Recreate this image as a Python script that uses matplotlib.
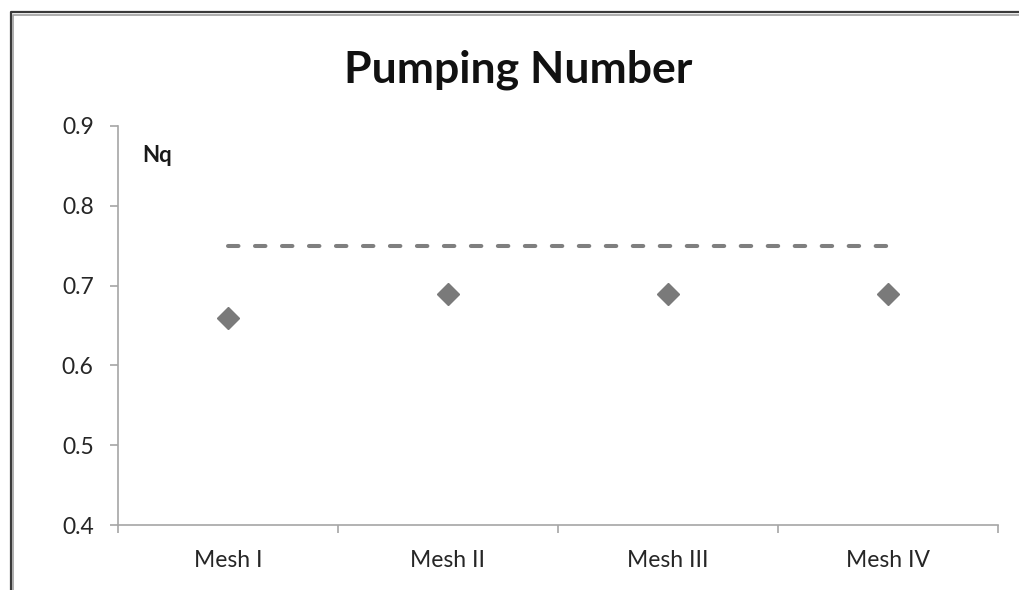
import matplotlib.pyplot as plt
from matplotlib.lines import Line2D

# chart data
categories = ['Mesh I', 'Mesh II', 'Mesh III', 'Mesh IV']
nq_values = [0.66, 0.69, 0.69, 0.69]
reference_nq = 0.75
y_ticks = [0.4, 0.5, 0.6, 0.7, 0.8, 0.9]

plt.rcParams['font.family'] = ['Lato', 'DejaVu Sans']

fig = plt.figure(figsize=(10.2, 5.9), dpi=100)
ax = fig.add_axes([118 / 1020, 1 - 525 / 590, 880 / 1020, 399 / 590])

x = list(range(len(categories)))

# dashed reference line and the diamond points
ax.plot([x[0], x[-1]], [reference_nq, reference_nq], color='#7f7f7f', lw=2.9,
        linestyle=(0, (2.6, 4.1)), dash_capstyle='round')
ax.plot(x, nq_values, linestyle='none', marker='D', markersize=11,
        color='#7a7a7a')

ax.set_xlim(-0.5, len(categories) - 0.5)
ax.set_ylim(0.4, 0.9)
ax.set_yticks(y_ticks)
ax.set_yticklabels([f'{v:.1f}' for v in y_ticks])
ax.set_xticks(x)
ax.set_xticklabels(categories)
ax.set_xticks([i - 0.5 for i in range(len(categories) + 1)], minor=True)

axis_color = '#a6a6a6'
for side in ['top', 'right']:
    ax.spines[side].set_visible(False)
for side in ['left', 'bottom']:
    ax.spines[side].set_color(axis_color)
    ax.spines[side].set_linewidth(1.2)

ax.tick_params(axis='y', direction='out', length=5.5, width=1.2, color=axis_color,
               labelsize=16.5, labelcolor='#262626', pad=12)
ax.tick_params(axis='x', which='major', length=0, labelsize=16.5,
               labelcolor='#262626', pad=18)
ax.tick_params(axis='x', which='minor', direction='out', length=6, width=1.2,
               color=axis_color)

ax.text(0.027, 0.927, 'Nq', transform=ax.transAxes, fontsize=16,
        fontweight='bold', color='#1a1a1a', ha='left', va='center')

fig.text(0.508, 1 - 82 / 590, 'Pumping Number', ha='center', va='baseline',
         fontsize=32, fontweight='bold', color='#111111')

# outer chart frame (only top and left edges are visible)
fig.add_artist(Line2D([11 / 1020, 11 / 1020, 1.0], [0.0, 1 - 12 / 590, 1 - 12 / 590],
                      transform=fig.transFigure, color='#3a3a3a', lw=1.6))
fig.add_artist(Line2D([13.5 / 1020, 13.5 / 1020, 1.0], [0.0, 1 - 14.5 / 590, 1 - 14.5 / 590],
                      transform=fig.transFigure, color='#a0a0a0', lw=1.2))

fig.savefig('out.png', dpi=100)
